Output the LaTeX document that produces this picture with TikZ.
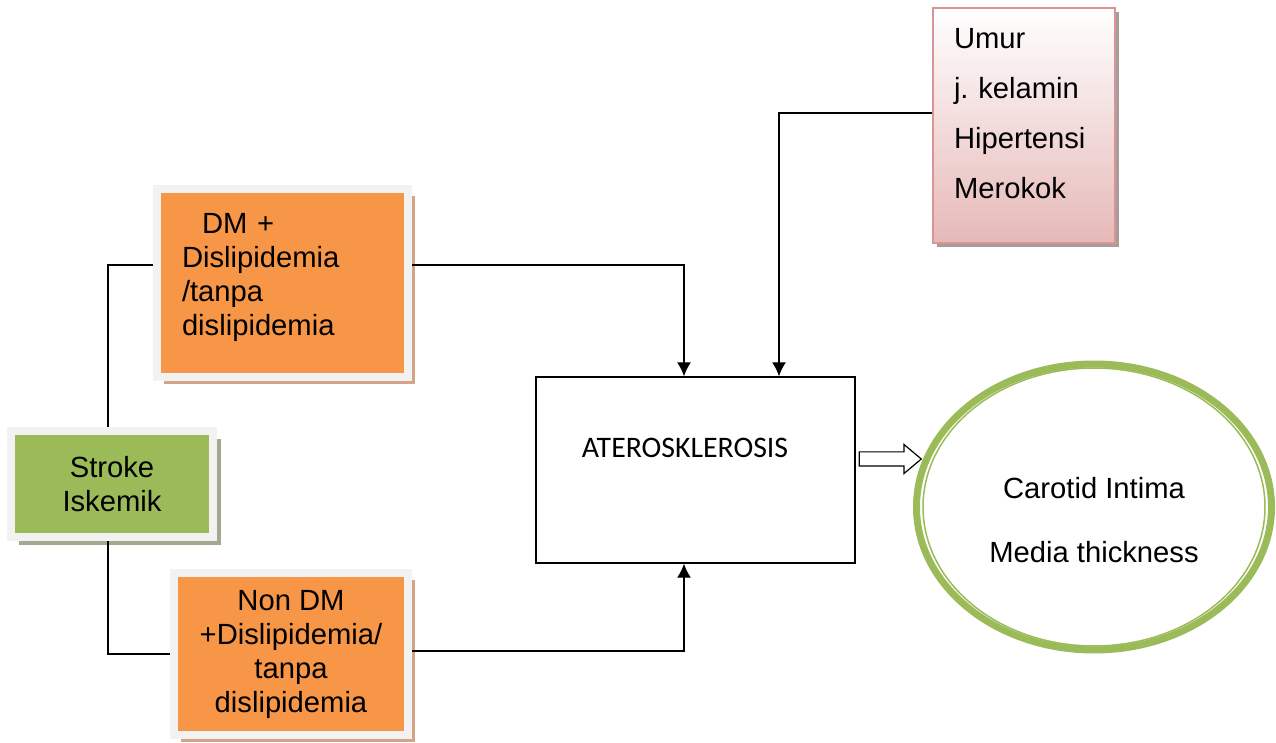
\documentclass[tikz,border=0pt]{standalone}
\usepackage{fontspec}
\setmainfont{Liberation Sans}
\newfontfamily\calibrifont{Carlito}
\usetikzlibrary{arrows.meta,shapes.geometric,shapes.arrows,shadows}
\definecolor{Orange}{HTML}{F79646}
\definecolor{OrangeShadow}{HTML}{D4A488}
\definecolor{Olive}{HTML}{9BBB59}
\definecolor{OliveShadow}{HTML}{A5A88E}
\definecolor{Frame}{HTML}{F2F2F2}
\definecolor{Rose}{HTML}{E6B9B8}
\definecolor{RoseLine}{HTML}{D99594}
\definecolor{RoseShadow}{HTML}{A89C9D}
\tikzset{
  arr/.style={-{Latex[length=7pt,width=7pt]},line width=0.7pt,draw=black},
  link/.style={line width=0.7pt,draw=black},
  orangebox/.style={draw=Frame,line width=4pt,fill=Orange,drop shadow={shadow xshift=3.5pt,shadow yshift=-3.5pt,opacity=1,fill=OrangeShadow}},
  greenbox/.style={draw=Frame,line width=4pt,fill=Olive,align=center,drop shadow={shadow xshift=4pt,shadow yshift=-4pt,opacity=1,fill=OliveShadow}},
  rosebox/.style={draw=RoseLine,line width=1pt,top color=white,bottom color=Rose,drop shadow={shadow xshift=2pt,shadow yshift=-2pt,opacity=1,fill=RoseShadow}},
  plainbox/.style={draw,line width=0.7pt,fill=white},
  ring/.style={ellipse,draw=Olive,line width=3.5pt,fill=white,inner sep=0pt},
  pushshape/.style={single arrow,draw,fill=white,line width=0.6pt,minimum height=31pt,inner xsep=0pt,inner ysep=3.25pt,single arrow head extend=3.75pt,single arrow tip angle=80}
}
\begin{document}
\begin{tikzpicture}[x=0.5pt,y=-0.5pt,font=\fontsize{14.6}{17}\selectfont]
  \useasboundingbox (0,0) rectangle (1276,743);
  % left column
  \node[orangebox,minimum width=125.5pt,minimum height=94pt] (dm) at (282.5,283) {};
  \node[text width=100.5pt,inner sep=0pt,align=left] (dmtext) at ([yshift=3pt]dm.center) {\hspace*{10pt}DM +\\Dislipidemia\\/tanpa\\dislipidemia};
  \node[greenbox,minimum width=101pt,minimum height=53pt] (stroke) at (112,484) {Stroke\\Iskemik};
  \node[orangebox,minimum width=117pt,minimum height=81pt,align=center] (nondm) at (291,654) {Non DM\\+Dislipidemia/\\tanpa\\dislipidemia};
  % right side
  \node[rosebox,minimum width=91pt,minimum height=117.5pt] (risk) at (1024,125.5) {};
  \node[text width=70pt,inner sep=0pt,align=left,font=\fontsize{14.6}{25}\selectfont] (risktext) at ([yshift=6pt]risk.center) {Umur\\j.\ kelamin\\Hipertensi\\Merokok};
  \node[plainbox,minimum width=159.5pt,minimum height=93pt] (atero) at (695.5,470) {};
  \node[font=\calibrifont\fontsize{14.9}{17}\selectfont] (aterotext) at (685,448) {ATEROSKLEROSIS};
  \node[ring,minimum width=177.5pt,minimum height=143pt] (cimt) at (1094,507) {};
  \draw[Olive,line width=0.75pt] (cimt.center) ellipse [x radius=85.5pt,y radius=69.5pt];
  \node[align=center] (cimttext) at ([yshift=-6.5pt]cimt.center) {Carotid Intima\\[15pt]Media thickness};
  \node[pushshape,anchor=tail] (push) at ([xshift=1.5pt,yshift=5.5pt]atero.east) {};
  % connectors
  \draw[link] ([xshift=-2pt]stroke.north) |- ([yshift=9pt]dm.west);
  \draw[link] ([xshift=-2pt]stroke.south) |- (nondm.west);
  \draw[arr] ([yshift=9pt]dm.east) -| ([xshift=-5.75pt]atero.north);
  \draw[arr] ([yshift=1.5pt]nondm.east) -| ([xshift=-5.75pt]atero.south);
  \draw[arr] ([yshift=6.25pt]risk.west) -| ([xshift=41.75pt]atero.north);
\end{tikzpicture}
\end{document}
